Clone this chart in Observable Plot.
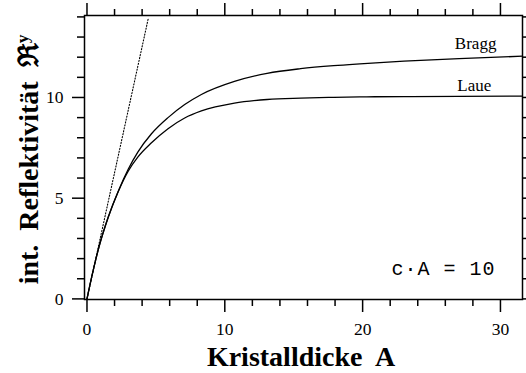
<!DOCTYPE html>
<html><head><meta charset="utf-8">
<script src="https://cdn.jsdelivr.net/npm/d3@7"></script>
<script src="https://cdn.jsdelivr.net/npm/@observablehq/plot@0.6"></script>
<style>
body{margin:0;background:#fff}
g[font-family="Liberation Mono"] text{letter-spacing:1px}
</style></head><body><div id="chart"></div>
<script>
const thickness = [0, 0.38, 0.82, 1.54, 2.27, 3.0, 3.7, 4.68, 5.88, 7.09, 8.3, 10.7, 13.07, 15.5, 17.9, 19.8, 23, 27, 31.6];
const bragg     = [0, 1.2, 2.45, 4.05, 5.35, 6.45, 7.3, 8.2, 9.0, 9.65, 10.15, 10.8, 11.2, 11.43, 11.58, 11.67, 11.8, 11.93, 12.05];
const laue      = [0, 1.2, 2.45, 4.05, 5.33, 6.35, 7.05, 7.75, 8.45, 8.98, 9.33, 9.72, 9.9, 9.97, 10.01, 10.03, 10.04, 10.05, 10.07];
const tangentX = [0, 4.44];
const tangentY = [0, 13.9];
const xMajor = [0, 10, 20, 30];
const xMinor = [2, 4, 6, 8, 12, 14, 16, 18, 22, 24, 26, 28];
const yMajor = [0, 5, 10];
const yMinor = [1, 2, 3, 4, 6, 7, 8, 9, 11, 12, 13, 14];
const curveLabels = ["Bragg", "Laue"];
const curveLabelX = [28.2, 28.1];
const curveLabelY = [12.42, 10.33];
const xLabel = "Kristalldicke  A";
const yLabel = "int.  Reflektivität  ℜ";
const yLabelSup = "y";
const note = "c·A = 10";
const noteX = 22.1, noteY = 1.2;

const rows = thickness.map((x, i) => ({x, bragg: bragg[i], laue: laue[i]}));
const tangent = tangentX.map((x, i) => ({x, y: tangentY[i]}));
const labels = curveLabels.map((t, i) => ({t, x: curveLabelX[i], y: curveLabelY[i]}));
const blank = () => "";
const sw = 1.5;

const chart = Plot.plot({
  width: 526, height: 373,
  marginLeft: 84, marginRight: 4, marginTop: 15, marginBottom: 74,
  x: {domain: [-0.18, 31.6]},
  y: {domain: [-0.03, 14.07]},
  style: {fontFamily: "Liberation Serif", background: "white", color: "black"},
  marks: [
    Plot.axisX(xMajor, {anchor: "bottom", tickSize: 13, tickPadding: 10, strokeWidth: sw, fontSize: 17.5, label: null}),
    Plot.axisX(xMinor, {anchor: "bottom", tickSize: 7, strokeWidth: sw, tickFormat: blank, label: null}),
    Plot.axisX(xMajor, {anchor: "top", tickSize: 13, strokeWidth: sw, tickFormat: blank, label: null}),
    Plot.axisX(xMinor, {anchor: "top", tickSize: 7, strokeWidth: sw, tickFormat: blank, label: null}),
    Plot.axisY(yMajor, {anchor: "left", tickSize: 12, tickPadding: 9, strokeWidth: sw, fontSize: 17.5, label: null}),
    Plot.axisY(yMinor, {anchor: "left", tickSize: 7, strokeWidth: sw, tickFormat: blank, label: null}),
    Plot.axisY(yMajor, {anchor: "right", tickSize: 12, strokeWidth: sw, tickFormat: blank, label: null}),
    Plot.axisY(yMinor, {anchor: "right", tickSize: 7, strokeWidth: sw, tickFormat: blank, label: null}),
    Plot.frame({strokeWidth: sw}),
    Plot.line(tangent, {x: "x", y: "y", strokeDasharray: "1.2,1.8", strokeWidth: 1.1}),
    Plot.line(rows, {x: "x", y: "bragg", curve: "monotone-x", strokeWidth: 1.3}),
    Plot.line(rows, {x: "x", y: "laue", curve: "monotone-x", strokeWidth: 1.3}),
    Plot.text(labels, {x: "x", y: "y", text: "t", fontSize: 17, lineAnchor: "bottom"}),
    Plot.text([note], {x: () => noteX, y: () => noteY, text: d => d, textAnchor: "start", lineAnchor: "bottom", fontSize: 20, fontFamily: "Liberation Mono"}),
    Plot.text([xLabel], {frameAnchor: "bottom", text: d => d, textAnchor: "middle", dy: 66, dx: -2.5, lineAnchor: "bottom", fontSize: 28, fontWeight: "bold"}),
    Plot.text([yLabel], {frameAnchor: "left", text: d => d, textAnchor: "middle", rotate: -90, dx: -47, dy: 2, lineAnchor: "bottom", fontSize: 28, fontWeight: "bold"})
  ]
});
d3.select(chart).selectAll("text").filter(function() { return this.textContent === yLabel; })
  .each(function() {
    const t = d3.select(this);
    t.append("tspan").attr("dy", "-0.55em").attr("font-size", "0.62em").text(yLabelSup);
  });
document.getElementById("chart").appendChild(chart);
</script></body></html>
